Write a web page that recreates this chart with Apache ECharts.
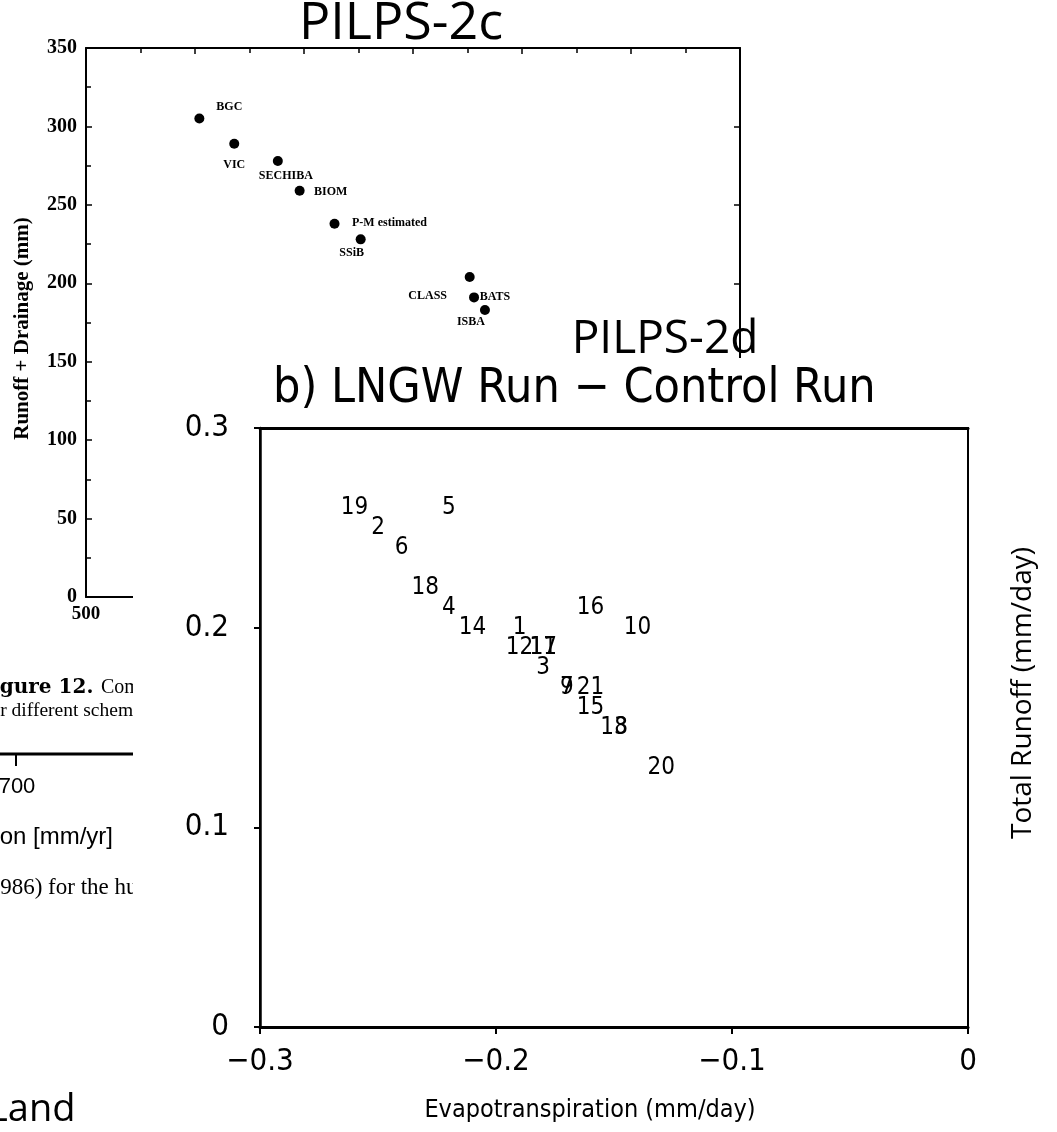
<!DOCTYPE html>
<html>
<head>
<meta charset="utf-8">
<script src="https://cdn.jsdelivr.net/npm/echarts@6/dist/echarts.min.js"></script>
<style>
  html, body { margin: 0; padding: 0; background: #fff; }
  #chart { width: 1057px; height: 1132px; }
</style>
</head>
<body>
<div id="chart"></div>
<script>
// ---- PILPS-2c: annual evapotranspiration vs runoff + drainage, per scheme ----
const schemes2c = ['BGC', 'VIC', 'SECHIBA', 'BIOM', 'P-M estimated', 'SSiB', 'CLASS', 'BATS', 'ISBA'];
const evap2c    = [552, 568, 588, 598, 614, 626, 676, 678, 683];
const runoff2c  = [305, 289, 278, 259, 238, 228, 204, 191, 183];
const xTicks2c  = [500, 550, 600, 650, 700, 750, 800];
const yTicks2c  = [0, 50, 100, 150, 200, 250, 300, 350];

// ---- PILPS-2d: LNGW run minus control run, per model number ----
const models2d  = ['19', '2', '5', '6', '18', '4', '14', '1', '12', '17', '11', '3', '16', '10', '9', '7', '21', '15', '13', '8', '20'];
const dEvap2d   = [-0.26, -0.25, -0.22, -0.24, -0.23, -0.22, -0.21, -0.19, -0.19, -0.18, -0.18, -0.18, -0.16, -0.14, -0.17, -0.17, -0.16, -0.16, -0.15, -0.147, -0.13];
const dRunoff2d = [0.26, 0.25, 0.26, 0.24, 0.22, 0.21, 0.20, 0.20, 0.19, 0.19, 0.19, 0.18, 0.21, 0.20, 0.17, 0.17, 0.17, 0.16, 0.15, 0.15, 0.13];
const xTicks2d  = [-0.3, -0.2, -0.1, 0];
const yTicks2d  = [0, 0.1, 0.2, 0.3];

// Where each scheme name sits relative to its dot (px)
const labelShift2c = {
  'BGC': [30, -12], 'VIC': [0, 21], 'SECHIBA': [8, 15], 'BIOM': [31, 1],
  'P-M estimated': [55, -1], 'SSiB': [-9, 14], 'CLASS': [-42, 19], 'BATS': [21, 0], 'ISBA': [-14, 12]
};

const SERIF = "'Liberation Serif', 'Times New Roman', serif";
const BOOK = "'DejaVu Serif', serif";
const COND = "'DejaVu Sans Condensed', 'Liberation Sans Narrow', 'Roboto Condensed', 'DejaVu Sans', sans-serif";
const SLIDE = "'Open Sans', 'Noto Sans', sans-serif";
const HELV = "'Liberation Sans', Arial, sans-serif";

const fmt2d = v => (Math.abs(v) < 1e-9 ? '0' : v.toFixed(1).replace('-', '\u2212'));

const chart = echarts.init(document.getElementById('chart'), null, { renderer: 'canvas' });

const axisBlack = { color: '#000', width: 2 };
const thinTick = { color: '#000', width: 1.5 };

chart.setOption({
  animation: false,
  backgroundColor: '#fff',
  title: {
    text: 'b) LNGW Run \u2212 Control Run',
    left: 268, top: 361, z: 12,
    textStyle: { fontFamily: COND, fontWeight: 'normal', fontSize: 48, color: '#000' }
  },
  grid: [
    { left: 86, top: 48, width: 654, height: 549, z: 1 },
    { left: 260, top: 428, width: 708, height: 599, show: true, borderColor: '#000', borderWidth: 2, z: 10 }
  ],
  xAxis: [
    {
      gridIndex: 0, type: 'value', position: 'bottom', z: 1,
      min: xTicks2c[0], max: xTicks2c[xTicks2c.length - 1], interval: xTicks2c[1] - xTicks2c[0],
      axisLine: { onZero: false, lineStyle: axisBlack }, splitLine: { show: false },
      axisTick: { inside: true, length: 6, lineStyle: thinTick },
      minorTick: { show: true, splitNumber: 2, length: 5, lineStyle: thinTick },
      axisLabel: { fontFamily: SERIF, fontWeight: 'bold', fontSize: 19, color: '#000', margin: 8, showMinLabel: true }
    },
    {
      gridIndex: 0, type: 'value', position: 'top', z: 1,
      min: xTicks2c[0], max: xTicks2c[xTicks2c.length - 1], interval: xTicks2c[1] - xTicks2c[0],
      axisLine: { onZero: false, lineStyle: axisBlack }, splitLine: { show: false },
      axisTick: { inside: true, length: 6, lineStyle: thinTick },
      minorTick: { show: true, splitNumber: 2, length: 5, lineStyle: thinTick },
      axisLabel: { show: false }
    },
    {
      gridIndex: 1, type: 'value', position: 'bottom', z: 10,
      min: xTicks2d[0], max: xTicks2d[xTicks2d.length - 1], interval: 0.1,
      axisLine: { onZero: false, lineStyle: { color: '#000', width: 3 } }, splitLine: { show: false },
      axisTick: { inside: false, length: 7, lineStyle: { color: '#000', width: 2 } },
      axisLabel: { formatter: fmt2d, fontFamily: COND, fontSize: 31, color: '#000', margin: 19 },
      name: 'Evapotranspiration (mm/day)', nameLocation: 'middle', nameGap: 71,
      nameTextStyle: { fontFamily: COND, fontSize: 25, color: '#000', padding: [0, 48, 0, 0] }
    },
    {
      // heavier top edge of the PILPS-2d frame
      gridIndex: 1, type: 'value', position: 'top', z: 10,
      min: xTicks2d[0], max: xTicks2d[xTicks2d.length - 1], interval: 0.1,
      axisLine: { onZero: false, lineStyle: { color: '#000', width: 3 } }, splitLine: { show: false },
      axisTick: { show: false }, axisLabel: { show: false }
    }
  ],
  yAxis: [
    {
      gridIndex: 0, type: 'value', position: 'left', z: 1,
      min: yTicks2c[0], max: yTicks2c[yTicks2c.length - 1], interval: yTicks2c[1] - yTicks2c[0],
      axisLine: { onZero: false, lineStyle: axisBlack }, splitLine: { show: false },
      axisTick: { inside: true, length: 6, lineStyle: thinTick },
      minorTick: { show: true, splitNumber: 2, length: 5, lineStyle: thinTick },
      axisLabel: { fontFamily: SERIF, fontWeight: 'bold', fontSize: 20, color: '#000', margin: 9 },
      name: 'Runoff + Drainage (mm)', nameLocation: 'middle', nameGap: 53,
      nameTextStyle: { fontFamily: SERIF, fontWeight: 'bold', fontSize: 21, color: '#000', padding: [0, 12, 0, 0] }
    },
    {
      gridIndex: 0, type: 'value', position: 'right', z: 1,
      min: yTicks2c[0], max: yTicks2c[yTicks2c.length - 1], interval: yTicks2c[1] - yTicks2c[0],
      axisLine: { onZero: false, lineStyle: axisBlack }, splitLine: { show: false },
      axisTick: { inside: true, length: 6, lineStyle: thinTick },
      axisLabel: { show: false }
    },
    {
      gridIndex: 1, type: 'value', position: 'left', z: 10,
      min: yTicks2d[0], max: yTicks2d[yTicks2d.length - 1], interval: 0.1,
      axisLine: { onZero: false, lineStyle: { color: '#000', width: 2.5 } }, splitLine: { show: false },
      axisTick: { inside: false, length: 6, lineStyle: { color: '#000', width: 2 } },
      axisLabel: { formatter: fmt2d, fontFamily: COND, fontSize: 31, color: '#000', margin: 31 }
    }
  ],
  series: [
    {
      type: 'scatter', xAxisIndex: 0, yAxisIndex: 0, z: 2, silent: true,
      symbol: 'circle', symbolSize: 10, itemStyle: { color: '#000', opacity: 1 },
      label: {
        show: true, position: 'inside', formatter: '{b}',
        fontFamily: SERIF, fontWeight: 'bold', fontSize: 12, color: '#000', opacity: 1
      },
      data: schemes2c.map((n, i) => ({
        name: n, value: [evap2c[i], runoff2c[i]], label: { offset: labelShift2c[n] }
      }))
    },
    {
      type: 'scatter', xAxisIndex: 2, yAxisIndex: 2, z: 11, silent: true,
      symbol: 'circle', symbolSize: 0, itemStyle: { color: '#000', opacity: 1 },
      label: {
        show: true, position: 'inside', formatter: '{b}',
        fontFamily: COND, fontSize: 24, color: '#000', opacity: 1
      },
      data: models2d.map((n, i) => ({ name: n, value: [dEvap2d[i], dRunoff2d[i]] }))
    }
  ],
  graphic: [
    // caption and axis of the neighbouring page, partly hidden under the PILPS-2d panel
    { type: 'text', z: 3, style: { text: 'Figure 12.', x: -22, y: 688, font: 'bold 20px ' + BOOK, fill: '#000', verticalAlign: 'middle' } },
    { type: 'text', z: 3, style: { text: 'Comparison of annual evapotranspiration', x: 101, y: 688, font: '20px ' + SERIF, fill: '#000', verticalAlign: 'middle' } },
    { type: 'text', z: 3, style: { text: 'for different schemes.', x: -16, y: 711, font: '19.5px ' + SERIF, fill: '#000', verticalAlign: 'middle' } },
    { type: 'line', z: 3, shape: { x1: 0, y1: 754, x2: 150, y2: 754 }, style: { stroke: '#000', lineWidth: 3 } },
    { type: 'line', z: 3, shape: { x1: 16, y1: 754, x2: 16, y2: 766 }, style: { stroke: '#000', lineWidth: 2 } },
    { type: 'text', z: 3, style: { text: '700', x: 17, y: 787, font: '22px ' + HELV, fill: '#000', align: 'center', verticalAlign: 'middle' } },
    { type: 'text', z: 3, style: { text: 'Evapotranspiration [mm/yr]', x: 113, y: 837, font: '24px ' + HELV, fill: '#000', align: 'right', verticalAlign: 'middle' } },
    { type: 'text', z: 3, style: { text: '(1986) for the humid', x: -19, y: 888, font: '23px ' + SERIF, fill: '#000', verticalAlign: 'middle' } },

    // white panel carrying the PILPS-2d plot
    { type: 'rect', z: 5, shape: { x: 133, y: 358, width: 924, height: 774 }, style: { fill: '#fff' } },

    // slide captions
    { type: 'text', z: 12, style: { text: 'PILPS-2c', x: 401, y: 24, font: '52px ' + SLIDE, fill: '#000', align: 'center', verticalAlign: 'middle' } },
    { type: 'text', z: 12, style: { text: 'PILPS-2d', x: 665, y: 340, font: '46px ' + SLIDE, fill: '#000', align: 'center', verticalAlign: 'middle' } },
    { type: 'text', z: 12, rotation: Math.PI / 2, x: 1023, y: 693, style: { text: 'Total Runoff (mm/day)', x: 0, y: 0, font: '28px ' + SLIDE, fill: '#000', align: 'center', verticalAlign: 'middle' } },
    { type: 'text', z: 12, style: { text: 'Land', x: -12, y: 1110, font: '38px ' + SLIDE, fill: '#000', verticalAlign: 'middle' } }
  ]
});
</script>
</body>
</html>
